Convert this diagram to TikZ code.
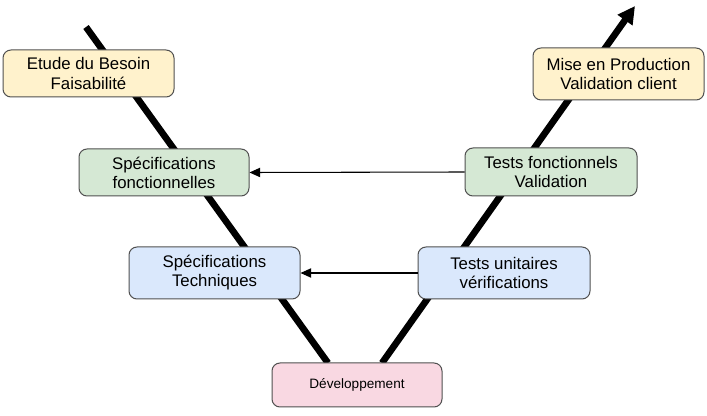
\documentclass[tikz,border=0pt]{standalone}
\usepackage{fontspec}
\setmainfont{Liberation Sans}
\usetikzlibrary{arrows.meta}
\definecolor{cyellow}{HTML}{FFF2CC}
\definecolor{cgreen}{HTML}{D5E8D4}
\definecolor{cblue}{HTML}{DAE8FC}
\definecolor{cpink}{HTML}{F9D8E2}
\definecolor{cborder}{HTML}{505050}
\begin{document}
\begin{tikzpicture}[x=0.75pt,y=-0.75pt,
  phase/.style={draw=cborder, line width=0.75pt, rounded corners=6pt, align=center,
    font=\fontsize{12.6}{14.3}\selectfont, inner sep=0pt},
  vline/.style={line width=5pt},
  link/.style={line width=0.8pt, -{Triangle[length=8pt,width=7pt]}}]
\useasboundingbox (0,0) rectangle (707,416);
\fill[white] (0,0) rectangle (707,416);
% V lines (drawn behind boxes)
\coordinate (ltop) at (86,27);
\coordinate (lbot) at (328,363);
\coordinate (rbot) at (382,363);
\coordinate (rtop) at (635,6);
\draw[vline] (ltop) -- (lbot);
\draw[vline, -{Triangle[length=13pt,width=13pt]}] (rbot) -- (rtop);
% boxes
\node[phase, fill=cyellow, minimum width=171*0.75pt, minimum height=47*0.75pt] (etude) at (88.5,73.5) {Etude du Besoin\\Faisabilité};
\node[phase, fill=cyellow, minimum width=171*0.75pt, minimum height=52*0.75pt] (mise) at (618.5,74) {Mise en Production\\Validation client};
\node[phase, fill=cgreen, minimum width=170*0.75pt, minimum height=47*0.75pt] (specf) at (164,172.5) {Spécifications\\fonctionnelles};
\node[phase, fill=cgreen, minimum width=172*0.75pt, minimum height=48*0.75pt] (testf) at (551,172) {Tests fonctionnels\\Validation};
\node[phase, fill=cblue, minimum width=171*0.75pt, minimum height=52*0.75pt] (spect) at (214.5,273) {Spécifications\\Techniques};
\node[phase, fill=cblue, minimum width=172*0.75pt, minimum height=52*0.75pt] (testu) at (504,273) {Tests unitaires\\vérifications};
\node[phase, fill=cpink, minimum width=170*0.75pt, minimum height=44*0.75pt, font=\fontsize{10.2}{12}\selectfont] (dev) at (357,385) {Développement};
% links
\draw[link] (testf.west) -- (specf.east);
\draw[link] (testu.west) -- (spect.east);
\end{tikzpicture}
\end{document}
